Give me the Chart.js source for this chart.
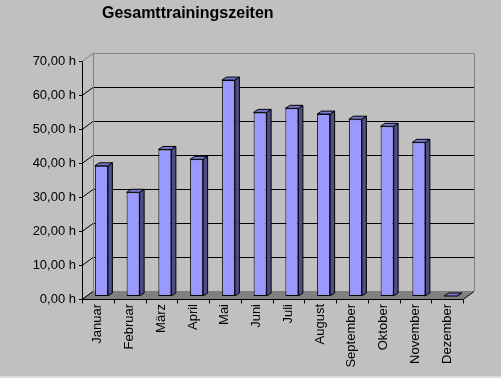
<!DOCTYPE html>
<html>
<head>
<meta charset="utf-8">
<script src="https://cdn.jsdelivr.net/npm/chart.js@4"></script>
<style>
  html, body { margin: 0; padding: 0; background: #c0c0c0; }
  #wrap { width: 501px; height: 378px; }
</style>
</head>
<body>
<div id="wrap"><canvas id="chart" width="501" height="378"></canvas></div>
<script>
const months = ['Januar', 'Februar', 'März', 'April', 'Mai', 'Juni', 'Juli', 'August', 'September', 'Oktober', 'November', 'Dezember'];
const hours = [38.3, 30.5, 43.1, 40.2, 63.5, 54.0, 55.2, 53.5, 52.0, 49.9, 45.2, 0];
const yTicks = [0, 10, 20, 30, 40, 50, 60, 70];

const font = '"Liberation Sans", Arial, sans-serif';

// offsets of the front plane and back wall relative to the bar plane
const FRONT = { x: -3.5, y: 3 };
const BACK = { x: 7.5, y: -5 };
const DEPTH = { x: 4.5, y: -3 };

function line(ctx, x1, y1, x2, y2, color) {
  ctx.strokeStyle = color;
  ctx.beginPath();
  ctx.moveTo(x1, y1);
  ctx.lineTo(x2, y2);
  ctx.stroke();
}

const frame3d = {
  id: 'frame3d',
  beforeDatasetsDraw(chart) {
    const ctx = chart.ctx;
    const a = chart.chartArea;
    const ys = chart.scales.y;
    const y0 = ys.getPixelForValue(0);
    const fl = a.left + FRONT.x, fr = a.right + FRONT.x;
    const bl = a.left + BACK.x, br = a.right + BACK.x;
    ctx.save();
    ctx.lineWidth = 1;

    // floor
    ctx.fillStyle = '#808080';
    ctx.beginPath();
    ctx.moveTo(fl, y0 + FRONT.y);
    ctx.lineTo(fr, y0 + FRONT.y);
    ctx.lineTo(br, y0 + BACK.y);
    ctx.lineTo(bl, y0 + BACK.y);
    ctx.closePath();
    ctx.fill();

    // back wall grid and diagonals
    yTicks.forEach(v => {
      const p = Math.round(ys.getPixelForValue(v)) + 0.5;
      const last = v === yTicks[yTicks.length - 1];
      const col = last ? '#808080' : '#000000';
      if (v > 0) line(ctx, bl, p + BACK.y, br, p + BACK.y, col);
      line(ctx, fl, p + FRONT.y, bl, p + BACK.y, col);
      // tick mark on front axis
      line(ctx, fl - 3, p + FRONT.y, fl, p + FRONT.y, '#000000');
    });
    const top = Math.round(ys.getPixelForValue(70)) + 0.5;
    line(ctx, Math.round(bl) + 0.5, top + BACK.y, Math.round(bl) + 0.5, y0 + BACK.y, '#808080');
    line(ctx, Math.round(br) + 0.5, top + BACK.y, Math.round(br) + 0.5, y0 + BACK.y, '#808080');

    // front axis lines
    const fx = Math.round(fl) + 0.5;
    const fy = Math.round(y0) + FRONT.y + 0.5;
    line(ctx, fx, top + FRONT.y, fx, fy, '#000000');
    line(ctx, fl, fy, fr, fy, '#000000');
    line(ctx, fr, fy, br, fy - (FRONT.y - BACK.y), '#000000');

    // category ticks on the front edge
    const step = (a.right - a.left) / months.length;
    for (let i = 0; i <= months.length; i++) {
      const tx = Math.round(fl + i * step) + 0.5;
      line(ctx, tx, fy, tx, fy + 4, '#000000');
    }
    ctx.restore();
  },
  afterDatasetsDraw(chart) {
    const ctx = chart.ctx;
    const meta = chart.getDatasetMeta(0);
    ctx.save();
    ctx.lineWidth = 1;
    ctx.strokeStyle = '#000000';
    meta.data.forEach(bar => {
      const { x, y, base, width } = bar.getProps(['x', 'y', 'base', 'width'], true);
      const l = x - width / 2, r = x + width / 2;
      // side face
      ctx.fillStyle = '#4d4d88';
      ctx.beginPath();
      ctx.moveTo(r, y);
      ctx.lineTo(r + DEPTH.x, y + DEPTH.y);
      ctx.lineTo(r + DEPTH.x, base + DEPTH.y);
      ctx.lineTo(r, base);
      ctx.closePath();
      ctx.fill();
      ctx.stroke();
      // top face
      ctx.fillStyle = '#7878cc';
      ctx.beginPath();
      ctx.moveTo(l, y);
      ctx.lineTo(l + DEPTH.x, y + DEPTH.y);
      ctx.lineTo(r + DEPTH.x, y + DEPTH.y);
      ctx.lineTo(r, y);
      ctx.closePath();
      ctx.fill();
      ctx.stroke();
    });
    ctx.restore();
  },
  afterDraw(chart) {
    const ctx = chart.ctx;
    ctx.save();
    ctx.fillStyle = '#000000';
    ctx.font = 'bold 16px ' + font;
    ctx.textAlign = 'left';
    ctx.textBaseline = 'alphabetic';
    ctx.fillText('Gesamttrainingszeiten', 102, 18);
    ctx.fillStyle = '#dcdcdc';
    ctx.fillRect(0, 376, 501, 2);
    ctx.restore();
  }
};

const ctx = document.getElementById('chart').getContext('2d');
const config = {
  type: 'bar',
  data: {
    labels: months,
    datasets: [{
      data: hours,
      backgroundColor: '#9999ff',
      borderColor: '#000000',
      borderWidth: 1,
      borderSkipped: false,
      categoryPercentage: 1,
      barPercentage: 0.41
    }]
  },
  options: {
    responsive: false,
    animation: false,
    events: [],
    layout: { padding: { left: 0, right: 34.5, top: 58, bottom: 0 } },
    plugins: {
      legend: { display: false },
      title: { display: false },
      tooltip: { enabled: false }
    },
    scales: {
      x: {
        grid: { display: false, drawTicks: false },
        border: { display: false },
        afterFit(axis) { axis.height = 82; },
        ticks: {
          autoSkip: false,
          minRotation: 90,
          maxRotation: 90,
          padding: 8,
          labelOffset: FRONT.x,
          color: '#000000',
          font: { family: font, size: 13 }
        }
      },
      y: {
        min: 0,
        max: 70,
        grid: { display: false, drawTicks: false },
        border: { display: false },
        afterFit(axis) { axis.width = 85.5; },
        ticks: {
          stepSize: 10,
          padding: 9.5,
          labelOffset: FRONT.y,
          color: '#000000',
          font: { family: font, size: 13 },
          callback: v => v.toFixed(2).replace('.', ',') + ' h'
        }
      }
    }
  },
  plugins: [frame3d]
};
new Chart(ctx, config);
</script>
</body>
</html>
